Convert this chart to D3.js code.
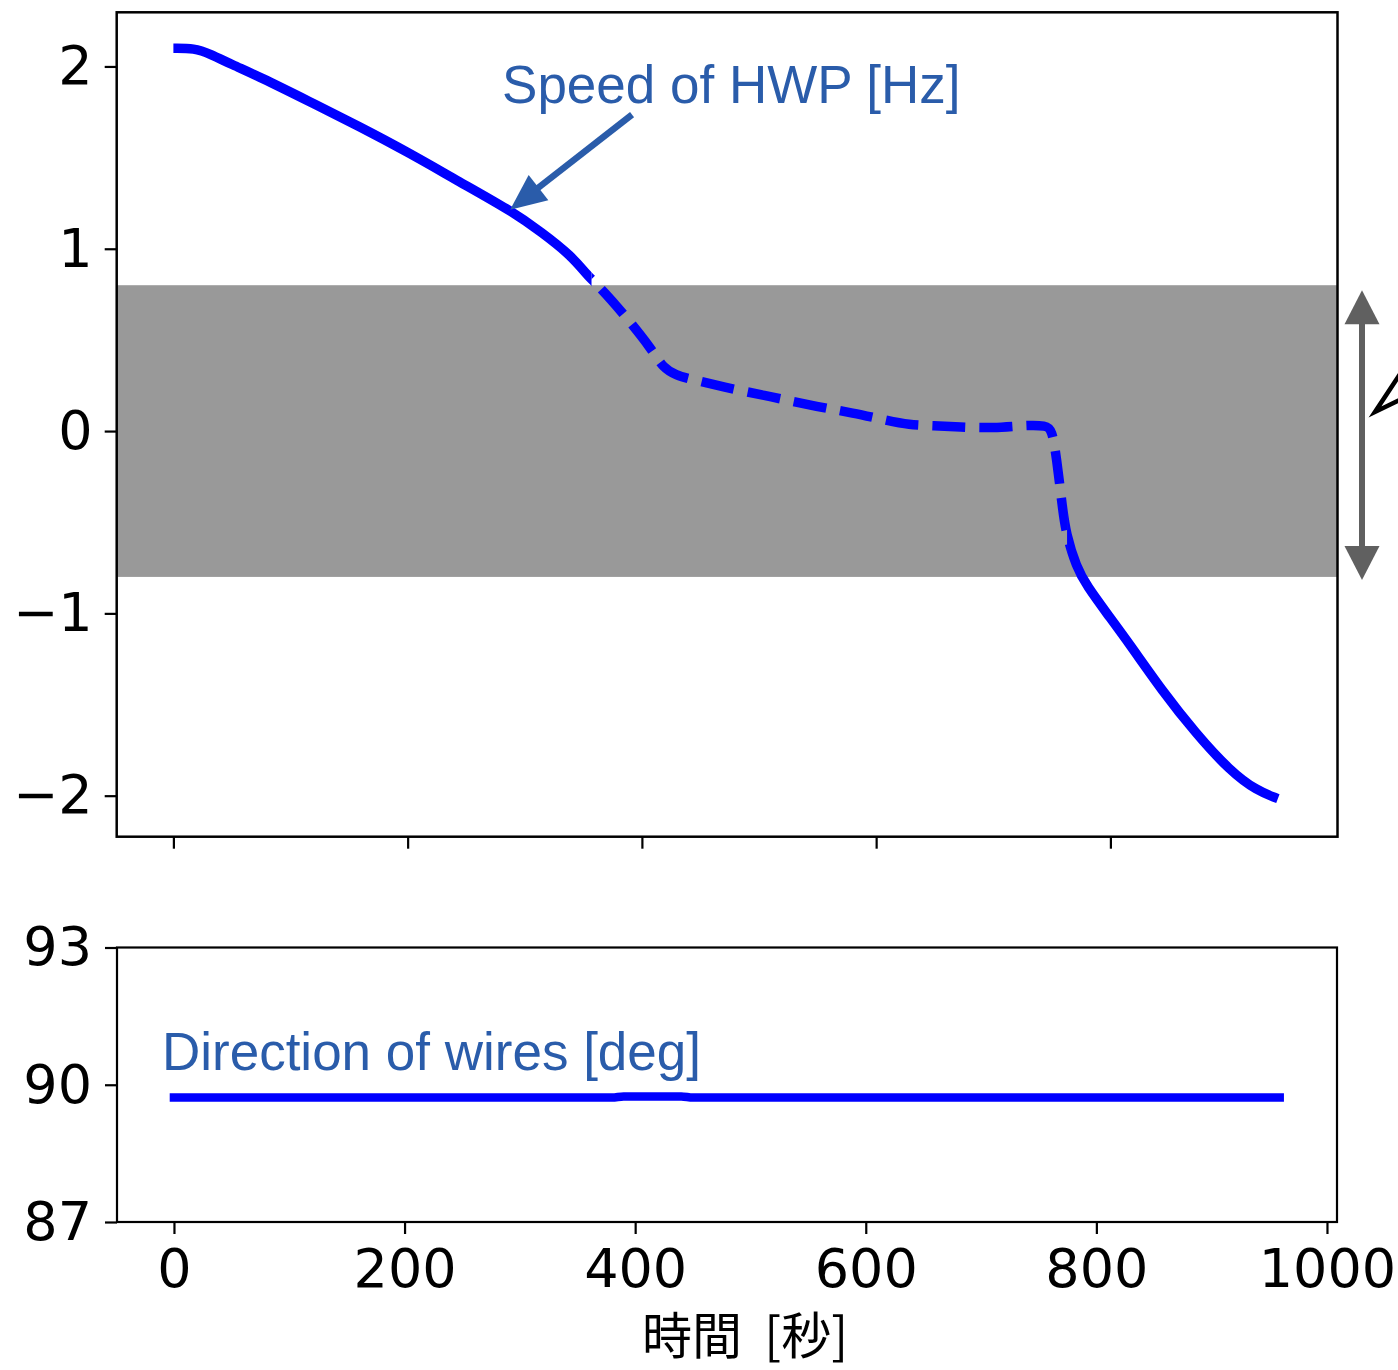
<!DOCTYPE html>
<html>
<head>
<meta charset="utf-8">
<script src="https://cdn.jsdelivr.net/npm/d3@7"></script>
<style>
  html, body { margin: 0; padding: 0; background: #fff; }
  svg { display: block; }
</style>
</head>
<body>
<svg id="chart" width="1398" height="1370"></svg>
<script>
// HWP rotation speed over the run (Hz)
const speedTime = [0, 18, 31, 50, 73, 116, 159, 201, 244, 287, 315, 340, 353, 364, 383, 409, 418, 430, 438, 469, 511, 551, 580, 608, 628, 649, 671, 700, 729, 745, 750, 754, 759, 762, 771, 780, 797, 816, 844, 873, 902, 925, 943];
const speedHz   = [2.10, 2.10, 2.07, 2.01, 1.945, 1.808, 1.670, 1.527, 1.368, 1.214, 1.088, 0.96, 0.857, 0.79, 0.654, 0.445, 0.346, 0.305, 0.291, 0.242, 0.187, 0.132, 0.10, 0.06, 0.033, 0.030, 0.022, 0.016, 0.033, 0.03, 0.01, -0.143, -0.418, -0.56, -0.747, -0.85, -1.0, -1.165, -1.423, -1.659, -1.863, -1.973, -2.016];

// Wire-grid direction over the run (deg)
const wireTime = [0, 380, 390, 440, 450, 959];
const wireDeg  = [89.72, 89.72, 89.745, 89.745, 89.72, 89.72];

// Low-speed band and the part of the speed trace drawn dashed
const bandHz = [-0.8, 0.8];
const dashedSpan = [357, 763];

// Tick values and labels
const topTicksX = [0, 200, 400, 600, 800];
const topTicksY = [-2, -1, 0, 1, 2];
const botTicksX = [0, 200, 400, 600, 800, 1000];
const botTicksY = [87, 90, 93];
const xLabel = "時間  [秒]";
const speedLabel = "Speed of HWP [Hz]";
const wireLabel = "Direction of wires [deg]";

const svg = d3.select("#chart");
svg.append("rect").attr("width", 1398).attr("height", 1370).attr("fill", "#fff");

const TICK_FONT = "'DejaVu Sans', sans-serif";
const NOTE_FONT = "'Liberation Sans', Arial, sans-serif";
const NOTE_COLOR = "#2a5caa";
const LINE_COLOR = "#0000ff";

// ---------- upper panel ----------
const upper = { l: 116.7, r: 1337.5, t: 12.3, b: 836.7 };
const xTop = d3.scaleLinear().domain([-48.4, 993.9]).range([upper.l, upper.r]);
const yTop = d3.scaleLinear().domain([-2.225, 2.297]).range([upper.b, upper.t]);

const defs = svg.append("defs");
defs.append("clipPath").attr("id", "clipTop")
  .append("rect").attr("x", upper.l).attr("y", upper.t)
  .attr("width", upper.r - upper.l).attr("height", upper.b - upper.t);
defs.append("clipPath").attr("id", "clipSolid")
  .selectAll("rect")
  .data([[upper.l, xTop(dashedSpan[0])], [xTop(dashedSpan[1]), upper.r]])
  .join("rect")
  .attr("x", d => d[0]).attr("y", upper.t)
  .attr("width", d => d[1] - d[0]).attr("height", upper.b - upper.t);
defs.append("clipPath").attr("id", "clipDashed")
  .append("rect").attr("x", xTop(dashedSpan[0])).attr("y", upper.t)
  .attr("width", xTop(dashedSpan[1]) - xTop(dashedSpan[0])).attr("height", upper.b - upper.t);

// grey band
svg.append("rect")
  .attr("x", upper.l).attr("width", upper.r - upper.l)
  .attr("y", yTop(bandHz[1])).attr("height", yTop(bandHz[0]) - yTop(bandHz[1]))
  .attr("fill", "#999999");

const speedData = speedTime.map((t, i) => [t, speedHz[i]]);
const speedLine = d3.line().x(d => xTop(d[0])).y(d => yTop(d[1])).curve(d3.curveBasis);

const gLines = svg.append("g").attr("clip-path", "url(#clipTop)");
gLines.append("path")
  .attr("d", speedLine(speedData))
  .attr("fill", "none").attr("stroke", LINE_COLOR).attr("stroke-width", 9.5)
  .attr("clip-path", "url(#clipSolid)");
const dashed = gLines.append("path")
  .attr("d", speedLine(speedData))
  .attr("fill", "none").attr("stroke", LINE_COLOR).attr("stroke-width", 9.5)
  .attr("stroke-dasharray", "33 14")
  .attr("clip-path", "url(#clipDashed)");

// start the dash pattern with a gap where the dashed part begins
(function phaseDashes() {
  const node = dashed.node();
  const total = node.getTotalLength();
  const xs = xTop(dashedSpan[0]);
  let lo = 0, hi = total;
  for (let k = 0; k < 40; k++) {
    const mid = (lo + hi) / 2;
    if (node.getPointAtLength(mid).x < xs) lo = mid; else hi = mid;
  }
  dashed.attr("stroke-dashoffset", 33 - lo);
})();

// axes
function styleAxis(g) {
  g.select(".domain").remove();
  g.selectAll(".tick line").attr("stroke", "#000").attr("stroke-width", 2.2);
  g.selectAll(".tick text").attr("fill", "#000")
    .style("font-family", TICK_FONT).style("font-size", "54px");
}
svg.append("g").attr("transform", `translate(0,${upper.b})`)
  .call(d3.axisBottom(xTop).tickValues(topTicksX).tickFormat("").tickSize(12).tickSizeOuter(0))
  .call(styleAxis);
svg.append("g").attr("transform", `translate(${upper.l},0)`)
  .call(d3.axisLeft(yTop).tickValues(topTicksY).tickFormat(d3.format("d")).tickSize(12).tickPadding(12))
  .call(styleAxis);

svg.append("rect")
  .attr("x", upper.l).attr("y", upper.t).attr("width", upper.r - upper.l).attr("height", upper.b - upper.t)
  .attr("fill", "none").attr("stroke", "#000").attr("stroke-width", 2.5);

// annotation: speed label and arrow
svg.append("text")
  .attr("x", xTop(280.6)).attr("y", yTop(1.80))
  .attr("fill", NOTE_COLOR).style("font-family", NOTE_FONT).style("font-size", "53px")
  .text(speedLabel);

const tail = [xTop(391.6), yTop(1.736)];
const tip = [xTop(287.5), yTop(1.214)];
const ang = Math.atan2(tip[1] - tail[1], tip[0] - tail[0]);
const headLen = 36, headHalf = 16;
const base = [tip[0] - headLen * Math.cos(ang), tip[1] - headLen * Math.sin(ang)];
svg.append("line")
  .attr("x1", tail[0]).attr("y1", tail[1]).attr("x2", base[0] + 4 * Math.cos(ang)).attr("y2", base[1] + 4 * Math.sin(ang))
  .attr("stroke", NOTE_COLOR).attr("stroke-width", 6.5);
svg.append("polygon")
  .attr("points", [
    tip,
    [base[0] + headHalf * Math.sin(ang), base[1] - headHalf * Math.cos(ang)],
    [base[0] - headHalf * Math.sin(ang), base[1] + headHalf * Math.cos(ang)]
  ].map(p => p.join(",")).join(" "))
  .attr("fill", NOTE_COLOR);

// double arrow marking the band, to the right of the panel
const axX = 1362;
const aTop = yTop(bandHz[1]) + 5, aBot = yTop(bandHz[0]) + 3;
const ARROW_GREY = "#606060";
svg.append("line").attr("x1", axX).attr("x2", axX).attr("y1", aTop + 30).attr("y2", aBot - 30)
  .attr("stroke", ARROW_GREY).attr("stroke-width", 6);
svg.append("polygon")
  .attr("points", `${axX},${aTop} ${axX - 17.5},${aTop + 34} ${axX + 17.5},${aTop + 34}`)
  .attr("fill", ARROW_GREY);
svg.append("polygon")
  .attr("points", `${axX},${aBot} ${axX - 17.5},${aBot - 34} ${axX + 17.5},${aBot - 34}`)
  .attr("fill", ARROW_GREY);

// open arrowhead of a pointer coming in from the right
svg.append("polyline")
  .attr("points", "1412,356 1375,412 1412,394")
  .attr("fill", "none").attr("stroke", "#000").attr("stroke-width", 4.5)
  .attr("stroke-linejoin", "miter");

// ---------- lower panel ----------
const lower = { l: 117, r: 1337, t: 947.5, b: 1222 };
const xBot = d3.scaleLinear().domain([-49.4, 1008.7]).range([lower.l, lower.r]);
const yBot = d3.scaleLinear().domain([87, 93]).range([lower.b, lower.t]);

const wireData = wireTime.map((t, i) => [t, wireDeg[i]]);
svg.append("path")
  .attr("d", d3.line().x(d => xBot(d[0])).y(d => yBot(d[1])).curve(d3.curveMonotoneX)(wireData))
  .attr("fill", "none").attr("stroke", LINE_COLOR).attr("stroke-width", 8.5)
  .attr("stroke-linecap", "square");

svg.append("g").attr("transform", `translate(0,${lower.b})`)
  .call(d3.axisBottom(xBot).tickValues(botTicksX).tickFormat(d3.format("d")).tickSize(12).tickPadding(15).tickSizeOuter(0))
  .call(styleAxis);
svg.append("g").attr("transform", `translate(${lower.l},0)`)
  .call(d3.axisLeft(yBot).tickValues(botTicksY).tickFormat(d3.format("d")).tickSize(12).tickPadding(13))
  .call(styleAxis);

svg.append("rect")
  .attr("x", lower.l).attr("y", lower.t).attr("width", lower.r - lower.l).attr("height", lower.b - lower.t)
  .attr("fill", "none").attr("stroke", "#000").attr("stroke-width", 2.2);

svg.append("text")
  .attr("x", xBot(-10.4)).attr("y", yBot(90.33))
  .attr("fill", NOTE_COLOR).style("font-family", NOTE_FONT).style("font-size", "53px")
  .text(wireLabel);

// x-axis title
svg.append("text")
  .attr("x", 745).attr("y", 1354)
  .attr("text-anchor", "middle")
  .style("white-space", "pre")
  .style("font-family", "'Noto Sans CJK JP', 'Noto Sans CJK SC', sans-serif")
  .style("font-size", "50px").attr("fill", "#000")
  .text(xLabel);
</script>
</body>
</html>
